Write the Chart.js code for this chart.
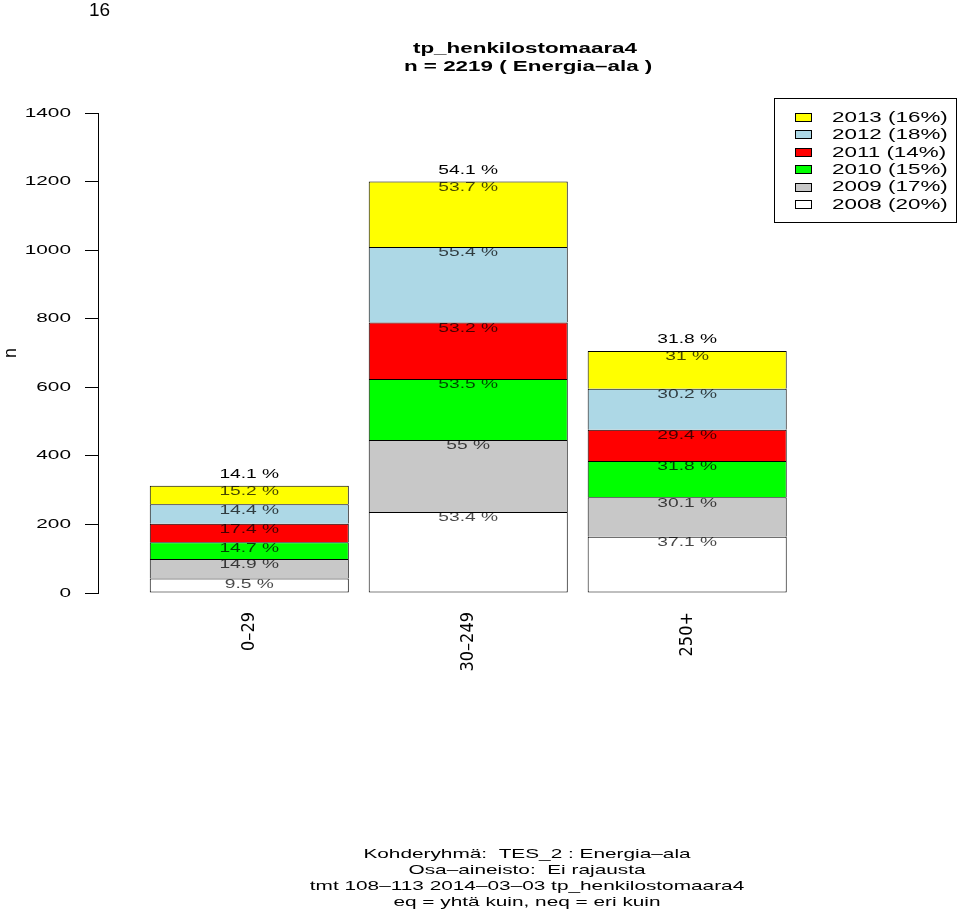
<!DOCTYPE html>
<html>
<head>
<meta charset="utf-8">
<title>tp_henkilostomaara4</title>
<script src="https://cdn.jsdelivr.net/npm/chart.js@4"></script>
<style>
  html, body { margin: 0; padding: 0; background: #fff; }
  #wrap { position: relative; width: 960px; height: 910px; }
  #page { position: absolute; left: 89px; top: 0; font: 19px 'Liberation Sans', Arial, sans-serif; line-height: 20px; }
</style>
</head>
<body>
<div id="wrap">
  <canvas id="chart" width="960" height="910"></canvas>
  <div id="page">16</div>
</div>
<script>
// size classes and years
const categories = ['0–29', '30–249', '250+'];
const years = ['2008', '2009', '2010', '2011', '2012', '2013'];
const yearShare = [20, 17, 15, 14, 18, 16]; // % of all answers, legend

// counts per size class (0–29, 30–249, 250+)
const n2008 = [42, 236, 164];
const n2009 = [57, 210, 115];
const n2010 = [49, 178, 106];
const n2011 = [54, 165, 91];
const n2012 = [57, 220, 120];
const n2013 = [54, 191, 110];

// printed shares inside the segments
const pct2008 = ['9.5', '53.4', '37.1'];
const pct2009 = ['14.9', '55', '30.1'];
const pct2010 = ['14.7', '53.5', '31.8'];
const pct2011 = ['17.4', '53.2', '29.4'];
const pct2012 = ['14.4', '55.4', '30.2'];
const pct2013 = ['15.2', '53.7', '31'];
const totalPct = ['14.1', '54.1', '31.8'];

const titleLines = ['tp_henkilostomaara4', ' n = 2219 ( Energia–ala )'];
const footerLines = [
  'Kohderyhmä:  TES_2 : Energia–ala',
  'Osa–aineisto:  Ei rajausta',
  'tmt 108–113 2014–03–03 tp_henkilostomaara4',
  'eq = yhtä kuin, neq = eri kuin'
];

const counts = [n2008, n2009, n2010, n2011, n2012, n2013];
const pcts = [pct2008, pct2009, pct2010, pct2011, pct2012, pct2013];
const yearColors = ['#ffffff', '#c8c8c8', '#00ff00', '#ff0000', '#add8e6', '#ffff00'];

// barplot slots: bar width 1, space 0.1
const barX = categories.map((_, i) => 0.6 + 1.1 * i);

const FONT = "'Liberation Sans', Arial, sans-serif";
const TEXT_STRETCH = 1.6; // the original print has wide, flat lettering

Chart.defaults.font.family = FONT;
Chart.defaults.color = '#000';

// horizontal text gets widened, rotated labels stay as they are
const wideText = {
  id: 'wideText',
  beforeInit(chart) {
    const ctx = chart.ctx;
    const fill = ctx.fillText;
    ctx.fillText = function (text, x, y) {
      const m = this.getTransform();
      if (m.b !== 0 || m.c !== 0) return fill.call(this, text, x, y);
      this.save();
      this.translate(x, y);
      this.scale(TEXT_STRETCH, 1);
      fill.call(this, text, 0, 0);
      this.restore();
    };
  }
};

const segmentLabels = {
  id: 'segmentLabels',
  afterDatasetsDraw(chart) {
    const ctx = chart.ctx;
    ctx.save();
    ctx.font = '12px ' + FONT;
    ctx.textAlign = 'center';
    ctx.textBaseline = 'middle';
    ctx.fillStyle = 'rgba(0,0,0,0.72)';
    chart.data.datasets.forEach((ds, i) => {
      chart.getDatasetMeta(i).data.forEach((bar, j) => {
        ctx.fillText(pcts[i][j] + ' %', bar.x, bar.y + 6);
      });
    });
    ctx.fillStyle = '#000';
    chart.getDatasetMeta(years.length - 1).data.forEach((bar, j) => {
      ctx.fillText(totalPct[j] + ' %', bar.x, bar.y - 11);
    });
    ctx.restore();
  }
};

const pageTexts = {
  id: 'pageTexts',
  afterDraw(chart) {
    const ctx = chart.ctx;
    ctx.save();
    ctx.fillStyle = '#000';
    ctx.textAlign = 'center';
    ctx.textBaseline = 'alphabetic';

    ctx.font = 'bold 14px ' + FONT;
    ctx.fillText(titleLines[0], 525, 53);
    ctx.fillText(titleLines[1], 525, 70.5);

    ctx.font = '13px ' + FONT;
    footerLines.forEach((t, i) => ctx.fillText(t, 527, 857.5 + i * 16.3));

    // legend, newest year on top
    ctx.strokeStyle = '#000';
    ctx.lineWidth = 1;
    ctx.strokeRect(774.5, 98.5, 182, 124);
    ctx.font = '14px ' + FONT;
    ctx.textAlign = 'left';
    ctx.textBaseline = 'middle';
    for (let k = 0; k < years.length; k++) {
      const i = years.length - 1 - k;
      const y = 118 + k * 17.4;
      ctx.fillStyle = yearColors[i];
      ctx.fillRect(795.5, Math.round(y) - 4.5, 16, 8);
      ctx.strokeRect(795.5, Math.round(y) - 4.5, 16, 8);
      ctx.fillStyle = '#000';
      ctx.fillText(years[i] + ' (' + yearShare[i] + '%)', 832, y);
    }
    ctx.restore();
  }
};

new Chart(document.getElementById('chart'), {
  type: 'bar',
  data: {
    datasets: years.map((yr, i) => ({
      label: yr,
      data: counts[i].map((v, j) => ({ x: barX[j], y: v })),
      backgroundColor: yearColors[i],
      borderColor: '#000',
      borderWidth: 1,
      borderSkipped: i === 0 ? false : 'bottom',
      barPercentage: 1 / 1.1,
      categoryPercentage: 1
    }))
  },
  options: {
    responsive: false,
    animation: false,
    layout: { padding: { top: 113, right: 20, bottom: 0, left: 0 } },
    plugins: {
      legend: { display: false },
      title: { display: false },
      tooltip: { enabled: false }
    },
    scales: {
      x: {
        type: 'linear',
        stacked: true,
        offset: false,
        min: -0.16,
        max: 4.07,
        border: { display: false },
        grid: { display: false, drawTicks: false },
        afterBuildTicks(scale) {
          scale.ticks = barX.map(v => ({ value: v }));
        },
        ticks: {
          autoSkip: false,
          minRotation: 90,
          maxRotation: 90,
          padding: 19,
          color: '#000',
          font: { family: "'Liberation Sans Narrow', 'DejaVu Sans Condensed', " + FONT, size: 18 },
          callback: (v, i) => categories[i]
        },
        afterFit(scale) { scale.height = 317; }
      },
      y: {
        stacked: true,
        min: 0,
        max: 1400,
        border: { color: '#000', width: 1 },
        grid: { drawOnChartArea: false, color: '#000', tickLength: 13 },
        ticks: { stepSize: 200, padding: 14, color: '#000', font: { size: 13 }, callback: v => String(v) },
        title: { display: true, text: 'n', color: '#000', font: { size: 18 }, padding: 0 },
        afterFit(scale) { scale.width = 98; }
      }
    }
  },
  plugins: [wideText, segmentLabels, pageTexts]
});
</script>
</body>
</html>
